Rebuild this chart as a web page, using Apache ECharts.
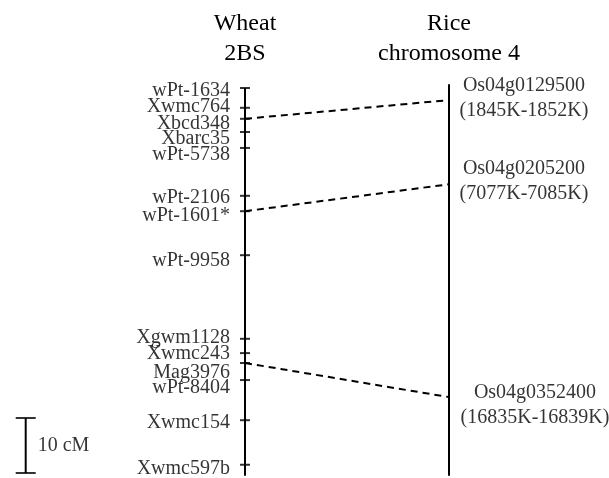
<!DOCTYPE html>
<html>
<head>
<meta charset="utf-8">
<script src="https://cdn.jsdelivr.net/npm/echarts@6/dist/echarts.min.js"></script>
<style>
    html, body { margin: 0; padding: 0; background: #fff; }
    #main { width: 609px; height: 478px; }
</style>
</head>
<body>
<div id="main"></div>
<script>
// wheat 2BS markers, position in cM from the top of the map
var wheatMarkers = ['wPt-1634', 'Xwmc764', 'Xbcd348', 'Xbarc35', 'wPt-5738', 'wPt-2106', 'wPt-1601*',
    'wPt-9958', 'Xgwm1128', 'Xwmc243', 'Mag3976', 'wPt-8404', 'Xwmc154', 'Xwmc597b'];
var wheatPos = [0, 3.6, 5.6, 8.0, 10.9, 19.6, 22.4, 30.4, 45.6, 48.2, 50.0, 53.1, 60.4, 68.5];
// where the names sit (pushed apart so they dont overlap)
var wheatLabelPos = [0.5, 3.4, 6.5, 9.2, 12.1, 19.9, 23.2, 31.4, 45.4, 48.3, 51.7, 54.5, 60.8, 69.2];
var wheatEnd = 70.5;

// rice chromosome 4 genes
var riceGenes = ['Os04g0129500', 'Os04g0205200', 'Os04g0352400'];
var riceRanges = ['(1845K-1852K)', '(7077K-7085K)', '(16835K-16839K)'];
var ricePos = [2.2, 17.5, 56.2];
var riceLabelPos = [1.8, 16.9, 57.7];
var riceTop = -0.7;
var riceEnd = 70.5;

// which wheat marker goes to which rice gene
var linkFrom = ['Xbcd348', 'wPt-1601*', 'Mag3976'];

var scaleBar = [60, 70];   // 10 cM

var WHEAT_X = 0, RICE_X = 1, BAR_X = -1.075;
var FONT = 'Liberation Serif';

var chart = echarts.init(document.getElementById('main'), null, { renderer: 'canvas' });

var series = [];

// chromosomes
series.push({
    type: 'line', data: [[WHEAT_X, 0], [WHEAT_X, wheatEnd]],
    symbol: 'none', clip: false,
    lineStyle: { color: '#000', width: 2 }
});
series.push({
    type: 'line', data: [[RICE_X, riceTop], [RICE_X, riceEnd]],
    symbol: 'none', clip: false,
    lineStyle: { color: '#000', width: 2 }
});

// marker ticks
series.push({
    type: 'scatter', symbol: 'rect', symbolSize: [10, 2], clip: false,
    itemStyle: { color: '#000' },
    data: wheatPos.map(function (p) { return [WHEAT_X, p]; })
});

// marker names
series.push({
    type: 'scatter', symbolSize: 0, clip: false,
    label: {
        show: true, position: 'left', distance: 15,
        formatter: '{b}', color: '#000', fontFamily: FONT, fontSize: 20
    },
    data: wheatMarkers.map(function (m, i) {
        return { name: m, value: [WHEAT_X, wheatLabelPos[i]] };
    })
});

// dashed links
linkFrom.forEach(function (m, i) {
    var p = wheatPos[wheatMarkers.indexOf(m)];
    series.push({
        type: 'line', data: [[WHEAT_X, p], [RICE_X, ricePos[i]]],
        symbol: 'none', clip: false,
        lineStyle: { color: '#000', width: 2, type: [7, 5] }
    });
});

// rice gene names
series.push({
    type: 'scatter', symbolSize: 0, clip: false,
    label: {
        show: true, position: 'inside',
        formatter: '{b}', color: '#000', fontFamily: FONT, fontSize: 20,
        lineHeight: 25, align: 'center'
    },
    data: riceGenes.map(function (g, i) {
        return {
            name: g + '\n' + riceRanges[i],
            value: [RICE_X, riceLabelPos[i]],
            label: { offset: [i == 2 ? 86 : 75, 0] }
        };
    })
});

// scale bar
series.push({
    type: 'line', data: [[BAR_X, scaleBar[0]], [BAR_X, scaleBar[1]]],
    symbol: 'none', clip: false,
    lineStyle: { color: '#000', width: 2 }
});
series.push({
    type: 'scatter', symbol: 'rect', symbolSize: [20, 2], clip: false,
    itemStyle: { color: '#000' },
    data: scaleBar.map(function (v) { return [BAR_X, v]; })
});
series.push({
    type: 'scatter', symbolSize: 0, clip: false,
    label: {
        show: true, position: 'right', distance: 12,
        formatter: '10 cM', color: '#000', fontFamily: FONT, fontSize: 20
    },
    data: [[BAR_X, (scaleBar[0] + scaleBar[1]) / 2]]
});

var option = {
    animation: false,
    backgroundColor: '#fff',
    grid: { left: 20.6, right: 160, top: 77, bottom: 2.25, outerBoundsMode: 'none' },
    xAxis: { type: 'value', min: -1.1, max: 1, show: false },
    yAxis: { type: 'value', min: -2, max: 70.5, inverse: true, show: false },
    graphic: [
        {
            type: 'text', x: 245, y: 39,
            style: {
                text: 'Wheat\n2BS', fontFamily: FONT, fontSize: 24, lineHeight: 30,
                align: 'center', verticalAlign: 'middle', fill: '#000'
            }
        },
        {
            type: 'text', x: 449, y: 39,
            style: {
                text: 'Rice\nchromosome 4', fontFamily: FONT, fontSize: 24, lineHeight: 30,
                align: 'center', verticalAlign: 'middle', fill: '#000'
            }
        }
    ],
    series: series
};

chart.setOption(option);
</script>
</body>
</html>
